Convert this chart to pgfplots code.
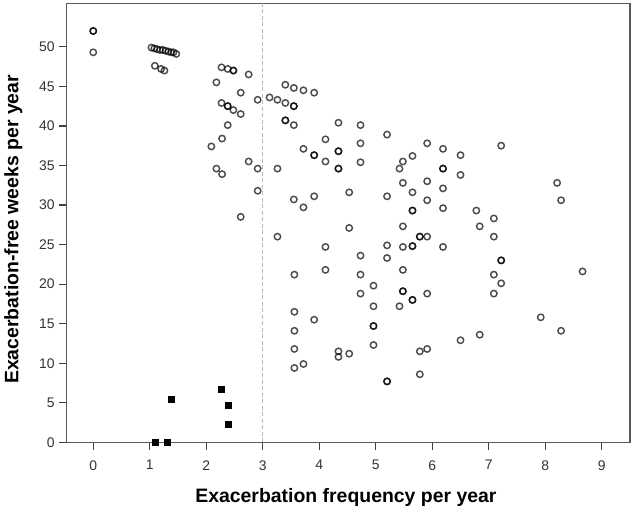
\documentclass[border=0pt]{standalone}
\usepackage{pgfplots}
\pgfplotsset{compat=1.18}
\usepackage{fontspec}
\setmainfont{Liberation Sans}
\begin{document}
\begin{tikzpicture}
\begin{axis}[
  scale only axis,
  width=563.3bp, height=439bp,
  xmin=-0.47, xmax=9.5, ymin=0, ymax=55.5,
  xtick={0,1,...,9}, ytick={0,5,...,50},
  xtick pos=bottom, ytick pos=left,
  tick align=outside, major tick length=7.5bp,
  axis line style={black!65, line width=1.2bp},
  every tick/.style={black!75, line width=1.2bp},
  /pgf/number format/assume math mode=true,
  tick label style={font=\fontsize{14}{16}\selectfont, text=black!80},
  xticklabel style={yshift=-7bp},
  yticklabel style={xshift=-1bp},
  xlabel={Exacerbation frequency per year},
  ylabel={Exacerbation-free weeks per year},
  label style={font=\fontsize{19.5}{23}\selectfont\bfseries},
  xlabel style={at={(axis description cs:0.4957,-0.138)}, anchor=base},
  ylabel style={at={(axis description cs:-0.0856,0.485)}, anchor=base},
  clip=false,
]
\addplot[black!28, line width=0.9bp, dash pattern=on 4bp off 2.5bp] coordinates {(3,0) (3,55.5)};
\addplot[only marks, mark=o, mark size=3.2bp, mark options={draw=black, draw opacity=0.7, line width=1.45bp}] coordinates {
(0,52.0) (0,52.0) (0,49.3)
(1.03,49.9) (1.08,49.8) (1.13,49.7) (1.18,49.6) (1.23,49.6) (1.28,49.5) (1.33,49.4) (1.38,49.3) (1.42,49.3) (1.47,49.1)
(1.09,47.6) (1.20,47.2) (1.26,47.0)
(2.27,47.4) (2.38,47.2) (2.48,47.0) (2.48,47.0) (2.75,46.5) (2.18,45.5) (2.61,44.2) (2.91,43.3)
(2.27,42.9) (2.38,42.5) (2.38,42.5) (2.48,42.0) (2.61,41.5) (2.38,40.1) (2.28,38.4) (2.09,37.4)
(2.75,35.5) (2.91,34.6) (2.18,34.6) (2.28,33.9) (2.91,31.8) (2.61,28.5)
(3.12,43.6) (3.26,43.3) (3.40,42.9) (3.55,42.5) (3.55,42.5) (3.40,45.2) (3.55,44.8) (3.72,44.5) (3.91,44.2)
(3.40,40.7) (3.40,40.7) (3.55,40.1) (3.72,37.1) (3.91,36.3) (3.91,36.3) (4.11,38.3) (4.34,40.4)
(4.34,36.8) (4.34,36.8) (4.34,34.6) (4.34,34.6) (4.11,35.5) (3.26,34.6) (3.55,30.7) (3.72,29.7) (3.91,31.1)
(4.53,31.6) (3.26,26.0) (4.11,24.7) (4.53,27.1)
(4.73,40.1) (5.20,38.9) (4.73,37.8) (4.73,35.4) (5.91,37.8) (6.19,37.1) (6.50,36.3) (7.22,37.5)
(5.65,36.2) (5.48,35.5) (5.42,34.6) (6.19,34.6) (6.19,34.6) (6.50,33.8) (5.48,32.8) (5.91,33.0) (6.19,32.1)
(5.65,31.6) (5.20,31.1) (5.91,30.6) (6.19,29.6) (5.65,29.3) (5.65,29.3) (5.48,27.3) (5.78,26.0) (5.78,26.0) (5.91,26.0)
(6.78,29.3) (7.09,28.3) (6.84,27.3) (7.09,26.0) (8.21,32.8) (8.28,30.6)
(5.20,24.9) (5.48,24.7) (5.65,24.8) (5.65,24.8) (6.19,24.7) (4.73,23.6) (5.20,23.3) (7.22,23.0) (7.22,23.0)
(4.11,21.8) (4.73,21.2) (5.48,21.8) (7.09,21.2) (7.22,20.1) (8.66,21.6)
(4.96,19.8) (4.73,18.8) (5.48,19.1) (5.48,19.1) (5.91,18.8) (7.09,18.8) (5.65,18.0) (5.65,18.0) (4.96,17.2) (5.42,17.2)
(3.91,15.5) (4.96,14.7) (4.96,14.7) (7.92,15.8) (8.28,14.1) (6.50,12.9) (6.84,13.6) (4.96,12.3)
(4.34,11.5) (4.34,10.8) (4.53,11.2) (3.72,9.9) (5.78,11.5) (5.91,11.8) (5.20,7.7) (5.20,7.7) (5.78,8.6)
(3.56,21.2) (3.56,16.5) (3.56,14.1) (3.56,11.8) (3.56,9.4)
};
\addplot[only marks, mark=square*, mark size=3bp, mark options={fill=black, draw=black}] coordinates {
(1.10,0) (1.31,0) (1.38,5.4) (2.27,6.7) (2.38,4.7) (2.38,2.3)
};
\coordinate (bl) at (rel axis cs:0,0);
\coordinate (tr) at (rel axis cs:1,1);
\end{axis}
\pgfresetboundingbox
\path[use as bounding box] ([xshift=-66.7bp,yshift=-67.7bp]bl) rectangle ([xshift=3bp,yshift=3.3bp]tr);
\end{tikzpicture}
\end{document}
